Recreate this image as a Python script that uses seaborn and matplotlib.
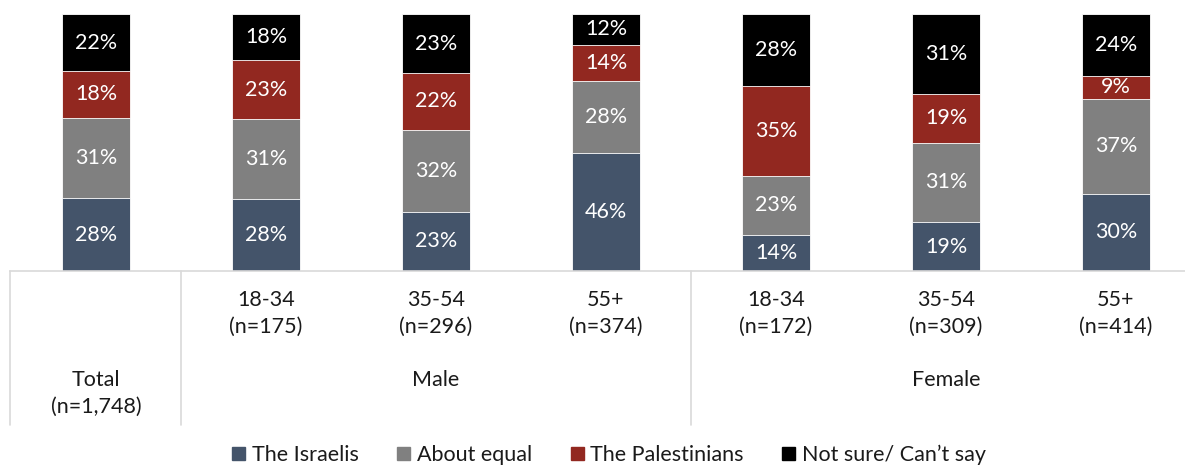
import numpy as np
import matplotlib
matplotlib.use("Agg")
import matplotlib.pyplot as plt
from matplotlib.patches import Patch
import seaborn as sns

sns.set_style("white")
plt.rcParams['font.family'] = ['Lato', 'DejaVu Sans']

# data
categories = ["Total", "Male 18-34", "Male 35-54", "Male 55+",
              "Female 18-34", "Female 35-54", "Female 55+"]
age_labels = ["", "18-34", "35-54", "55+", "18-34", "35-54", "55+"]
n_labels = ["", "(n=175)", "(n=296)", "(n=374)", "(n=172)", "(n=309)", "(n=414)"]
israelis = [28, 28, 23, 46, 14, 19, 30]
about_equal = [31, 31, 32, 28, 23, 31, 37]
palestinians = [18, 23, 22, 14, 35, 19, 9]
not_sure = [22, 18, 23, 12, 28, 31, 24]
series_names = ["The Israelis", "About equal", "The Palestinians", "Not sure/ Can\u2019t say"]
colors = ["#44546A", "#808080", "#922820", "#000000"]

vals = np.array([israelis, about_equal, palestinians, not_sure], dtype=float)
# 100% stacked, like the original chart
shares = vals / vals.sum(axis=0) * 100
cum = np.cumsum(shares, axis=0)

fs = 15.5
fig = plt.figure(figsize=(11.85, 4.67), dpi=100)
ax = fig.add_axes([10 / 1185, 196 / 467, 1175 / 1185, 257 / 467])

# draw the cumulative totals from the top layer down
for i in range(3, -1, -1):
    sns.barplot(x=categories, y=cum[i], order=categories, color=colors[i],
                saturation=1, width=0.4, edgecolor="white", linewidth=0.6, ax=ax)

# segment labels
for j in range(len(categories)):
    for i in range(4):
        mid = cum[i, j] - shares[i, j] / 2
        ax.text(j, mid, f"{int(vals[i, j])}%", ha="center", va="center",
                color="white", fontsize=fs)

ax.set_xlim(-0.506, 6.406)
ax.set_ylim(0, 100)
ax.set_yticks([])
ax.set_xticks([])
ax.set_xlabel("")
ax.set_ylabel("")
sns.despine(ax=ax, left=True, top=True, right=True)
ax.spines["bottom"].set_color("#d9d9d9")
ax.spines["bottom"].set_linewidth(1.2)

# multi-level category axis
txt_col = "#1a1a1a"
for j in range(len(categories)):
    if age_labels[j]:
        ax.text(j, -11.3, age_labels[j], ha="center", va="center", fontsize=fs,
                color=txt_col, clip_on=False)
        ax.text(j, -21.8, n_labels[j], ha="center", va="center", fontsize=fs,
                color=txt_col, clip_on=False)
ax.text(0, -42.4, "Total", ha="center", va="center", fontsize=fs, color=txt_col, clip_on=False)
ax.text(0, -52.9, "(n=1,748)", ha="center", va="center", fontsize=fs, color=txt_col, clip_on=False)
ax.text(2, -42.4, "Male", ha="center", va="center", fontsize=fs, color=txt_col, clip_on=False)
ax.text(5, -42.4, "Female", ha="center", va="center", fontsize=fs, color=txt_col, clip_on=False)
for x in [-0.506, 0.5, 3.5]:
    ax.plot([x, x], [0, -60], color="#d9d9d9", lw=1.2, clip_on=False)

handles = [Patch(facecolor=c, edgecolor=c) for c in colors]
fig.legend(handles, series_names, loc="center", bbox_to_anchor=(0.514, 0.026),
           ncol=4, frameon=False, fontsize=fs, handlelength=0.6, handleheight=0.6,
           handletextpad=0.3, columnspacing=1.8, labelcolor=txt_col,
           borderpad=0, borderaxespad=0)

fig.savefig("out.png", dpi=100)
